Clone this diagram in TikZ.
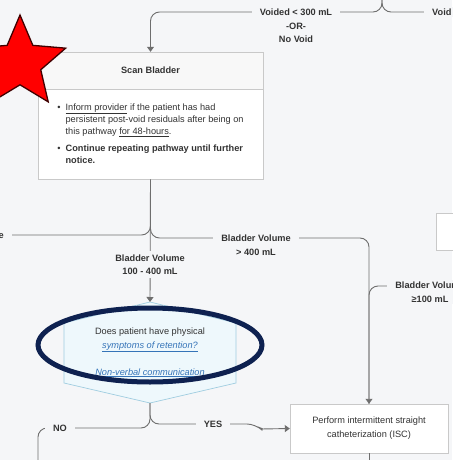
\documentclass[tikz,border=0pt]{standalone}
\usepackage{fontspec}
\setmainfont{Liberation Sans}
\usetikzlibrary{arrows.meta, shapes.geometric, positioning, calc}

\definecolor{pagebg}{HTML}{F5F6F8}
\definecolor{headfill}{HTML}{F8F8F8}
\definecolor{ink}{HTML}{333333}
\definecolor{wirecol}{HTML}{6E6E6E}
\definecolor{boxline}{HTML}{C9C9C9}
\definecolor{askfill}{HTML}{EEF8FC}
\definecolor{askline}{HTML}{9FCDE0}
\definecolor{linkblue}{HTML}{3574B8}
\definecolor{ringnavy}{HTML}{0E2150}

\newcommand{\asklink}[1]{\textcolor{linkblue}{\underline{\textit{#1}}}}

\begin{document}
\begin{tikzpicture}[x=1pt,y=-1pt,
    txt/.style={font=\fontsize{9.2}{13.5}\selectfont,text=ink},
    lbl/.style={txt,font=\fontsize{9.2}{13.5}\selectfont\bfseries,
                fill=pagebg,inner xsep=8pt,inner ysep=1.5pt,align=center},
    card/.style={rectangle,draw=boxline,fill=white,txt},
    flow/.style={draw=wirecol,line width=0.9pt,rounded corners=9pt},
    tip/.style={-{Triangle[length=5pt,width=7pt]}}]
      \fill[pagebg] (0,0) rectangle (452,460);
      \useasboundingbox (0,0) rectangle (452,460);

      \node[card,fill=headfill,font=\fontsize{9.2}{13.5}\selectfont\bfseries,
            minimum width=225pt,minimum height=37pt]
            (scan) at(150.5,70.5){Scan Bladder};
      \node[card,below=0pt of scan,minimum width=225pt,minimum height=90pt,
            font=\fontsize{9.2}{12}\selectfont]
            (scannote){\begin{tabular}{@{}l@{\hspace{5pt}}l@{}}
              \textbullet & \underline{Inform provider} if the patient has had\\
              & persistent post-void residuals after being on\\
              & this pathway \underline{for 48-hours}.\\[5pt]
              \textbullet & \textbf{Continue repeating pathway until further}\\
              & \textbf{notice.}
            \end{tabular}};
      \node[card,minimum width=40pt,minimum height=37pt] (side) at(456,231.5){};
      \node[card,minimum width=158pt,minimum height=49pt,align=center,
            font=\fontsize{9.2}{14}\selectfont]
            (isc) at(369,428.5){Perform intermittent straight\\catheterization (ISC)};

      \coordinate (ask) at (150,352.5);
      \filldraw[fill=askfill,draw=askline,line width=0.7pt]
            (ask) ++(0,-50.5) coordinate (asktop) -- ++(86,21) -- ++(0,60)
            -- ++(-86,20) coordinate (askbot) -- ++(-86,-20) -- ++(0,-60) -- cycle;
      \node[txt,align=center] (askq) at(150,352.5){Does patient have physical\\
            \asklink{symptoms of retention?}\\[13.5pt]
            \asklink{Non-verbal communication}};

      \coordinate (top) at (382,0);
      \coordinate (split) at (382,12);
      \coordinate (voidend) at (452,12);
      \coordinate (lowleft) at (0,235);
      \coordinate (bend) at (369,238);
      \coordinate (volright) at (400,286);
      \coordinate (nocorner) at (38,428);
      \coordinate (nodown) at (38,460);
      \coordinate (yesjog) at (256,424);
      \coordinate (iscdown) at (369,460);

      \draw[flow] (top) -- (split) -- (voidend);
      \draw[flow,tip] (top) -- (split) -| (scan.north);
      \draw[flow] (scannote.south) |- (lowleft);
      \draw[flow,tip] (scannote.south) |- (bend) -- (isc.north);
      \draw[flow] (volright) -| (isc.north);
      \draw[flow,tip] (scannote.south) -- (asktop);
      \draw[flow] (askbot) |- (nocorner) -- (nodown);
      \draw[flow,tip] (askbot) |- (yesjog) [rounded corners=2pt] -- ++(5,5) -- (isc.west);
      \draw[flow] (isc.south) -- (iscdown);

      \node[lbl] (voided) at(296,26){Voided < 300 mL\\-OR-\\No Void};
      \node[lbl,anchor=west] (void) at(424,12){Void};
      \node[lbl] (over) at(256,245){Bladder Volume\\> 400 mL};
      \node[lbl,inner ysep=3pt] (mid) at(150,264.5){Bladder Volume\\100 - 400 mL};
      \node[lbl] (atleast) at(430,292){Bladder Volume\\≥100 mL};
      \node[lbl,anchor=east] (under) at(12,241.75){Bladder Volume\\< 100 mL};
      \node[lbl] (no) at(60,428){NO};
      \node[lbl] (yes) at(213,424){YES};

      \node[star,star points=5,star point ratio=2.2,minimum size=96pt,inner sep=0pt,
            fill=red,draw=black!75!red,line width=1.3pt] (alert) at(20,63){};
      \node[ellipse,draw=ringnavy,line width=5pt,minimum width=224pt,
            minimum height=74pt,inner sep=0pt] (ring) at(150,345){};
    \end{tikzpicture}
\end{document}
